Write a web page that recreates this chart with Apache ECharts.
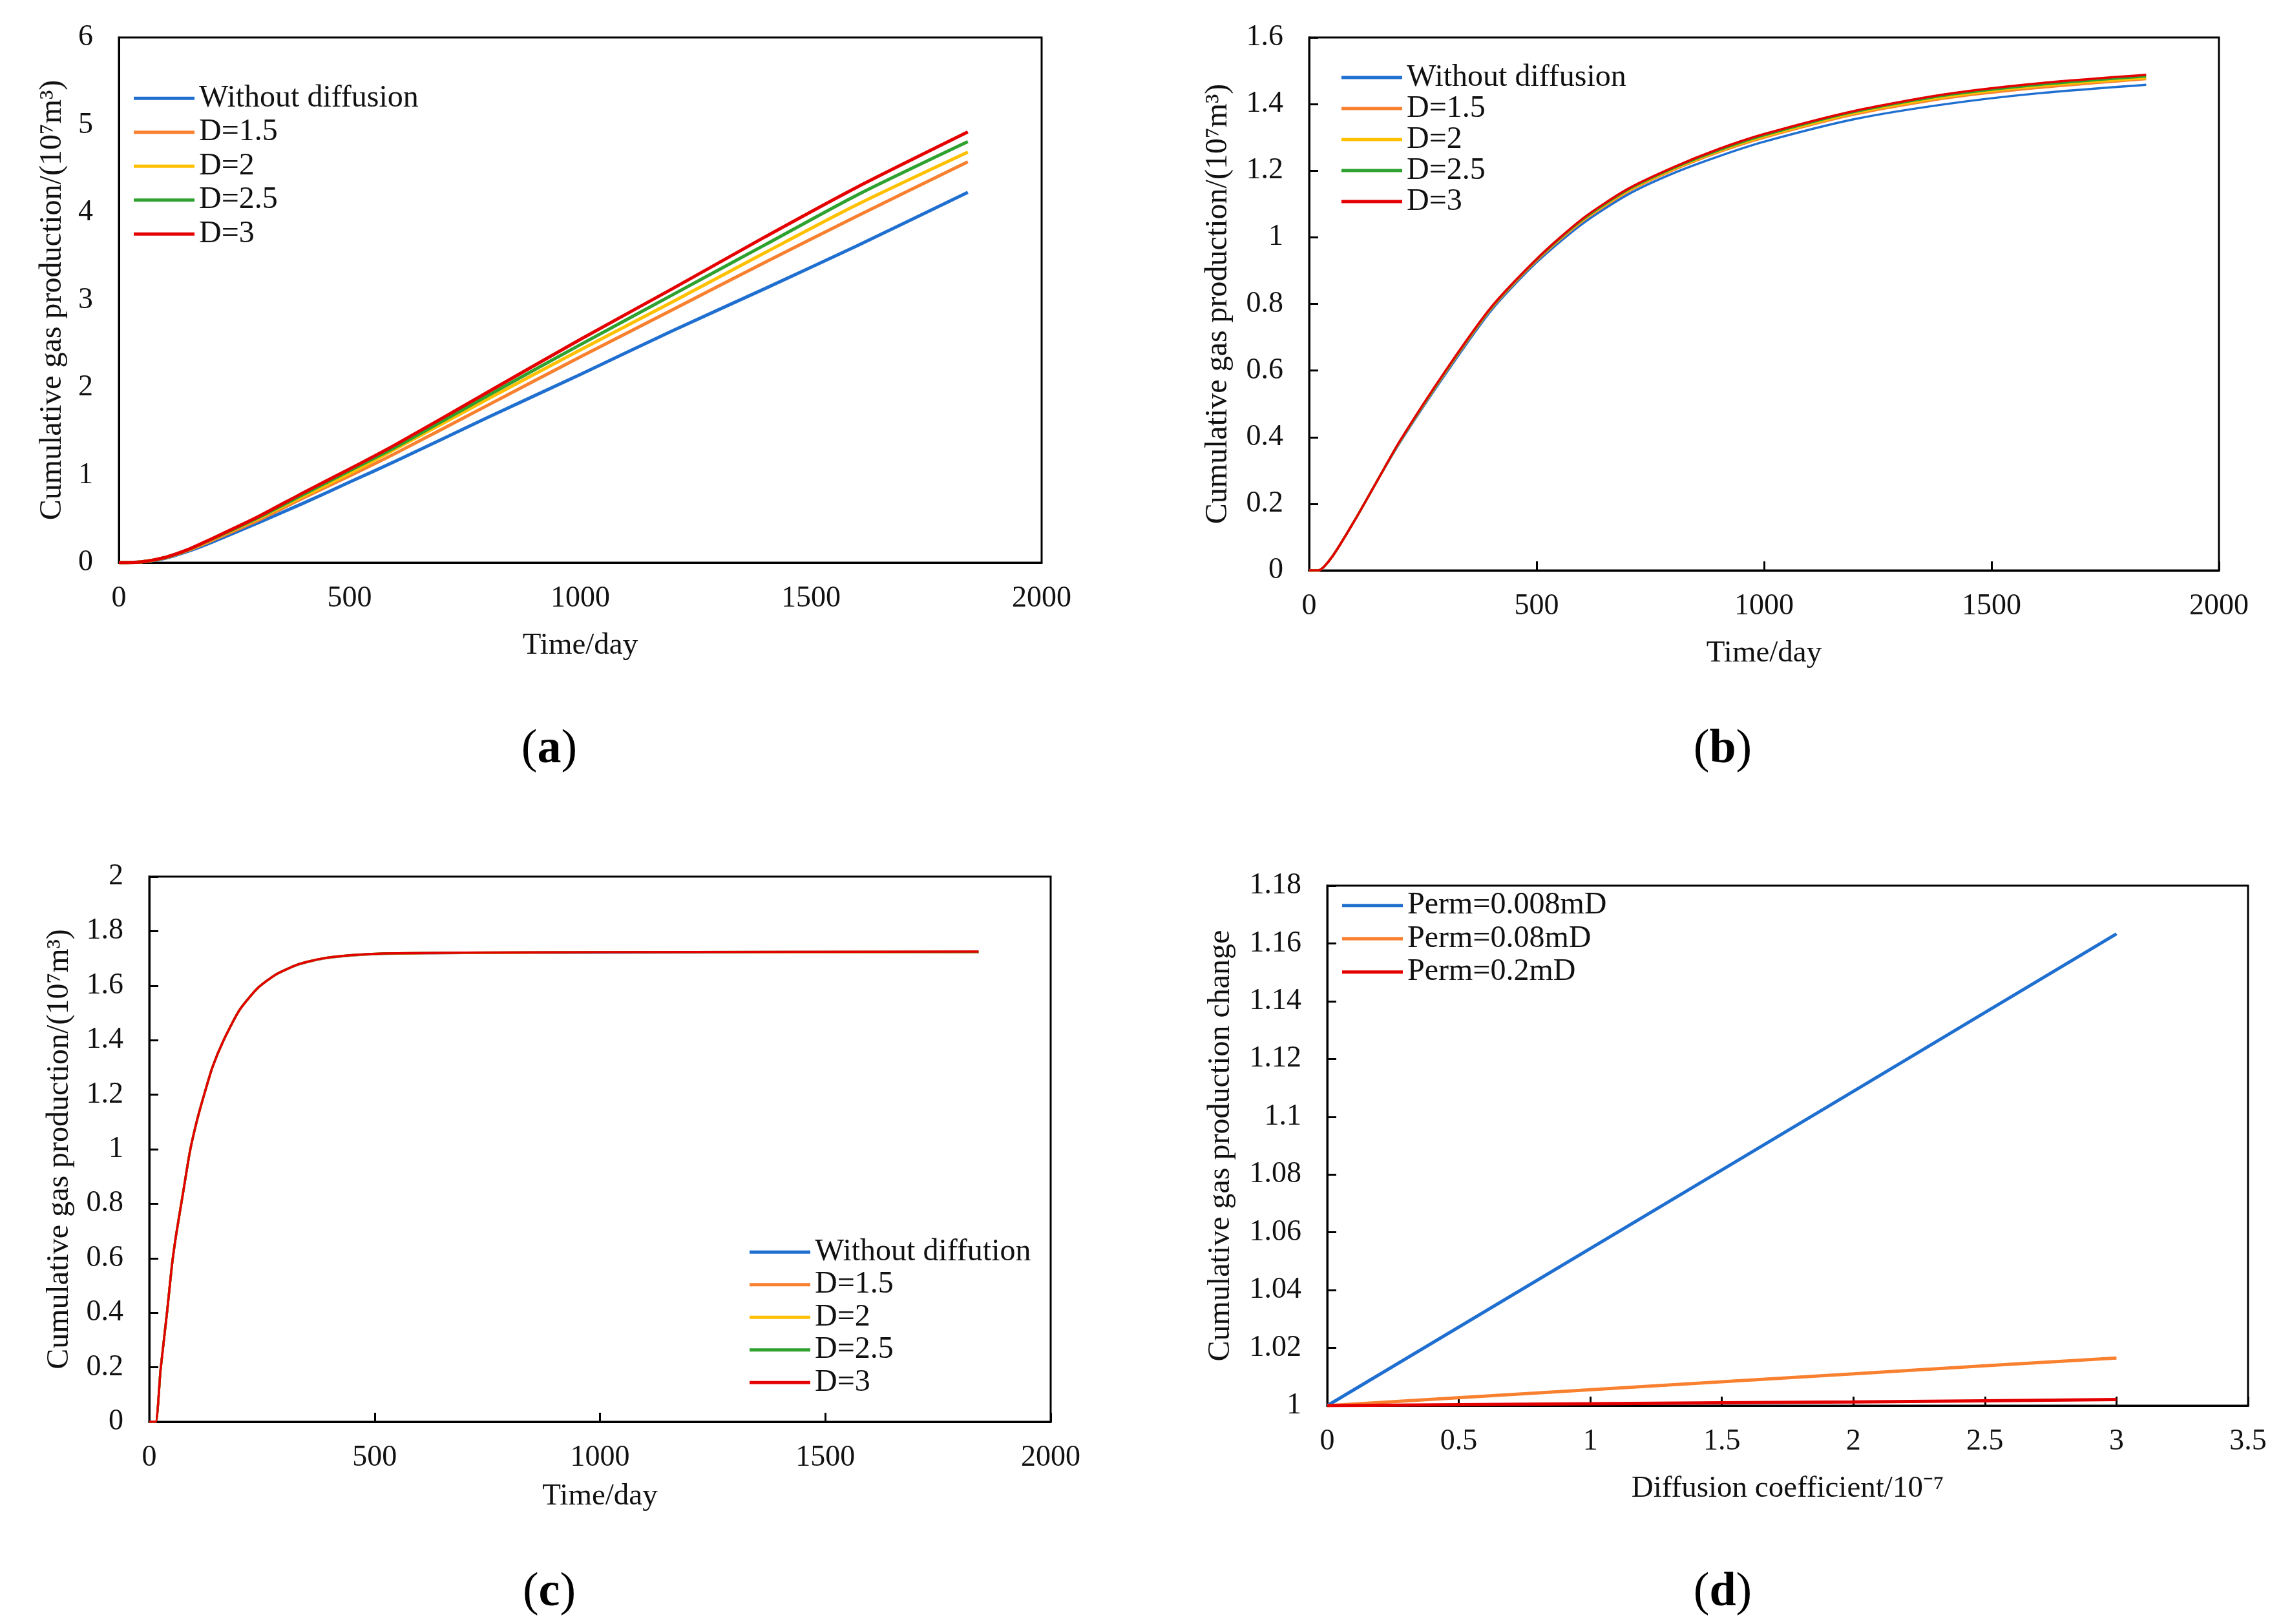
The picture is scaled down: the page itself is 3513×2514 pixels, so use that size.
<!DOCTYPE html>
<html>
<head>
    <meta charset="UTF-8">
    <title>Cumulative gas production</title>
    <script type="text/javascript" src="https://cdn.jsdelivr.net/npm/echarts@6.0.0/dist/echarts.min.js"></script>
    <style>
        html, body { margin: 0; padding: 0; background: #fff; }
        #main { width: 3513px; height: 2514px; }
    </style>
</head>
<body>
<div id="main"></div>

<script type="text/javascript">
    // ---- data ----
    // (a) time axis, days
    var timeA = [0, 50, 100, 150, 200, 300, 400, 500, 600, 800, 1000, 1200, 1400, 1600, 1840];
    var aNoDiff = [0, 0.01, 0.05, 0.13, 0.23, 0.45, 0.68, 0.92, 1.16, 1.66, 2.15, 2.65, 3.13, 3.62, 4.23];
    var aD15    = [0, 0.01, 0.055, 0.14, 0.25, 0.48, 0.74, 0.99, 1.25, 1.80, 2.35, 2.89, 3.43, 3.96, 4.58];
    var aD2     = [0, 0.01, 0.057, 0.145, 0.26, 0.50, 0.76, 1.02, 1.30, 1.87, 2.43, 2.98, 3.54, 4.09, 4.69];
    var aD25    = [0, 0.01, 0.058, 0.148, 0.265, 0.51, 0.78, 1.05, 1.32, 1.91, 2.49, 3.06, 3.63, 4.20, 4.81];
    var aD3     = [0, 0.01, 0.06, 0.15, 0.27, 0.52, 0.80, 1.07, 1.35, 1.95, 2.55, 3.13, 3.72, 4.29, 4.92];

    // (b)
    var timeB = [0, 20, 50, 100, 150, 200, 300, 400, 500, 600, 700, 800, 900, 1000, 1200, 1400, 1600, 1840];
    var bNoDiff = [0, 0, 0.04, 0.15, 0.27, 0.385, 0.590, 0.780, 0.925, 1.040, 1.128, 1.192, 1.243, 1.287, 1.355, 1.400, 1.432, 1.458];
    var bD15    = [0, 0, 0.04, 0.15, 0.27, 0.388, 0.595, 0.785, 0.930, 1.047, 1.136, 1.201, 1.255, 1.299, 1.369, 1.417, 1.448, 1.475];
    var bD2     = [0, 0, 0.04, 0.15, 0.27, 0.388, 0.597, 0.787, 0.932, 1.050, 1.139, 1.204, 1.258, 1.302, 1.373, 1.421, 1.453, 1.478];
    var bD25    = [0, 0, 0.04, 0.15, 0.27, 0.389, 0.598, 0.788, 0.933, 1.052, 1.142, 1.207, 1.261, 1.306, 1.377, 1.426, 1.457, 1.483];
    var bD3     = [0, 0, 0.04, 0.15, 0.27, 0.390, 0.600, 0.790, 0.935, 1.055, 1.145, 1.210, 1.265, 1.310, 1.380, 1.430, 1.462, 1.488];

    // (c)
    var timeC = [0, 14, 25, 40, 50, 60, 75, 90, 105, 120, 140, 165, 200, 240, 280, 330, 385, 450, 520, 700, 1000, 1400, 1840];
    var cNoDiff = [0, 0, 0.19, 0.41, 0.57, 0.69, 0.84, 0.99, 1.10, 1.19, 1.30, 1.40, 1.51, 1.59, 1.64, 1.677, 1.699, 1.711, 1.717, 1.720, 1.721, 1.722, 1.722];
    var cD15    = [0, 0, 0.19, 0.41, 0.57, 0.69, 0.84, 0.99, 1.10, 1.19, 1.30, 1.40, 1.51, 1.59, 1.64, 1.677, 1.699, 1.711, 1.717, 1.720, 1.722, 1.723, 1.723];
    var cD2     = [0, 0, 0.19, 0.41, 0.57, 0.69, 0.84, 0.99, 1.10, 1.19, 1.30, 1.40, 1.51, 1.59, 1.64, 1.678, 1.700, 1.712, 1.718, 1.721, 1.722, 1.723, 1.724];
    var cD25    = [0, 0, 0.19, 0.41, 0.57, 0.69, 0.84, 0.99, 1.10, 1.19, 1.30, 1.40, 1.51, 1.59, 1.64, 1.678, 1.700, 1.712, 1.718, 1.721, 1.723, 1.724, 1.724];
    var cD3     = [0, 0, 0.19, 0.41, 0.57, 0.69, 0.84, 0.99, 1.10, 1.19, 1.30, 1.40, 1.51, 1.59, 1.64, 1.678, 1.700, 1.712, 1.718, 1.721, 1.723, 1.724, 1.725];

    // (d) diffusion coefficient / 10^-7
    var diffD = [0, 1.5, 2, 2.5, 3];
    var dPerm0008 = [1, 1.0816, 1.1088, 1.1361, 1.1633];
    var dPerm008  = [1, 1.0083, 1.0110, 1.0138, 1.0165];
    var dPerm02   = [1, 1.0010, 1.0013, 1.0017, 1.0021];

    var xTicksTime = [0, 2000, 500];   // min, max, interval
    var xTicksD = [0, 3.5, 0.5];

    var namesA = ['Without diffusion', 'D=1.5', 'D=2', 'D=2.5', 'D=3'];
    var namesC = ['Without diffution', 'D=1.5', 'D=2', 'D=2.5', 'D=3'];
    var namesD = ['Perm=0.008mD', 'Perm=0.08mD', 'Perm=0.2mD'];

    var colors = ['#1F6FD0', '#F8802F', '#FFC000', '#2EA12E', '#E50000'];
    var colorsD = ['#1F6FD0', '#F8802F', '#E50000'];

    var FONT = 'Liberation Serif';
    var yTitle = 'Cumulative gas production/(10\u2077m\u00B3)';

    function pairs(xs, ys) {
        var out = [];
        for (var i = 0; i < xs.length; i++) out.push([xs[i], ys[i]]);
        return out;
    }

    // plain numbers, no thousands separator
    function plain(v) {
        return String(+v.toFixed(4));
    }

    function xAxisCfg(idx, ticks, name, nameGap, showTick) {
        return {
            type: 'value', gridIndex: idx,
            min: ticks[0], max: ticks[1], interval: ticks[2],
            name: name, nameLocation: 'middle', nameGap: nameGap,
            nameTextStyle: { fontFamily: FONT, fontSize: 47, color: '#111' },
            axisLine: { show: true, lineStyle: { color: '#000', width: 3 } },
            axisTick: { show: showTick, inside: true, length: 14, lineStyle: { color: '#000', width: 3 } },
            axisLabel: { fontFamily: FONT, fontSize: 46, color: '#111', margin: 33, formatter: plain },
            splitLine: { show: false }
        };
    }

    function yAxisCfg(idx, min, max, interval, name, nameGap, showTick) {
        return {
            type: 'value', gridIndex: idx,
            min: min, max: max, interval: interval,
            name: name, nameLocation: 'middle', nameGap: nameGap,
            nameTextStyle: { fontFamily: FONT, fontSize: 48, color: '#111' },
            axisLine: { show: true, lineStyle: { color: '#000', width: 3 } },
            axisTick: { show: showTick, inside: true, length: 14, lineStyle: { color: '#000', width: 3 } },
            axisLabel: { fontFamily: FONT, fontSize: 46, color: '#111', margin: 40, formatter: plain },
            splitLine: { show: false }
        };
    }

    function legendCfg(names, left, top, rowH) {
        return {
            data: names, orient: 'vertical', left: left, top: top,
            icon: 'rect', itemWidth: 94, itemHeight: 5, itemGap: 0,
            selectedMode: false, padding: 0,
            textStyle: { fontFamily: FONT, fontSize: 48, color: '#111', lineHeight: rowH, padding: [0, 0, 0, 2] }
        };
    }

    function lineSeries(name, xi, data, color, width, smooth) {
        return {
            type: 'line', name: name, xAxisIndex: xi, yAxisIndex: xi,
            data: data, showSymbol: false, symbol: 'none',
            smooth: smooth,
            color: color, itemStyle: { color: color },
            lineStyle: { color: color, width: width },
            animation: false
        };
    }

    var series = [];
    var setsA = [aNoDiff, aD15, aD2, aD25, aD3];
    var setsB = [bNoDiff, bD15, bD2, bD25, bD3];
    var setsC = [cNoDiff, cD15, cD2, cD25, cD3];
    for (var i = 0; i < 5; i++) {
        series.push(lineSeries(namesA[i], 0, pairs(timeA, setsA[i]), colors[i], 5, 0.25));
    }
    for (var i = 0; i < 5; i++) {
        series.push(lineSeries(namesA[i], 1, pairs(timeB, setsB[i]), colors[i], 3.5, 0.25));
    }
    for (var i = 0; i < 5; i++) {
        series.push(lineSeries(namesC[i], 2, pairs(timeC, setsC[i]), colors[i], 3.5, 0.2));
    }
    var setsD = [dPerm0008, dPerm008, dPerm02];
    for (var i = 0; i < 3; i++) {
        series.push(lineSeries(namesD[i], 3, pairs(diffD, setsD[i]), colorsD[i], 5, false));
    }

    function panelLabel(letter, x, y) {
        return {
            type: 'text', x: x, y: y,
            style: {
                text: '{n|(}{b|' + letter + '}{n|)}',
                align: 'center', verticalAlign: 'middle',
                rich: {
                    n: { fontFamily: FONT, fontSize: 74, fill: '#000' },
                    b: { fontFamily: FONT, fontSize: 74, fontWeight: 'bold', fill: '#000' }
                }
            }
        };
    }

    var gridStyle = { show: true, borderColor: '#000', borderWidth: 3, backgroundColor: '#fff' };

    var option = {
        backgroundColor: '#fff',
        animation: false,
        grid: [
            Object.assign({ left: 184, top: 58, width: 1428, height: 813 }, gridStyle),
            Object.assign({ left: 2026, top: 58, width: 1408, height: 825 }, gridStyle),
            Object.assign({ left: 231, top: 1357, width: 1395, height: 844 }, gridStyle),
            Object.assign({ left: 2054, top: 1371, width: 1425, height: 805 }, gridStyle)
        ],
        xAxis: [
            xAxisCfg(0, xTicksTime, 'Time/day', 105, false),
            xAxisCfg(1, xTicksTime, 'Time/day', 105, true),
            xAxisCfg(2, xTicksTime, 'Time/day', 92, true),
            xAxisCfg(3, xTicksD, 'Diffusion coefficient/10\u207B\u2077', 105, true)
        ],
        yAxis: [
            yAxisCfg(0, 0, 6, 1, yTitle, 79, false),
            yAxisCfg(1, 0, 1.6, 0.2, yTitle, 117, true),
            yAxisCfg(2, 0, 2, 0.2, yTitle, 115, true),
            yAxisCfg(3, 1, 1.18, 0.02, 'Cumulative gas production change', 141, true)
        ],
        legend: [
            legendCfg(namesA, 207, 126, 52.5),
            legendCfg(namesA, 2076, 96, 47),
            legendCfg(namesC, 1160, 1913, 50.5),
            legendCfg(namesD, 2077, 1376, 51.5)
        ],
        graphic: [
            panelLabel('a', 850, 1161),
            panelLabel('b', 2666, 1161),
            panelLabel('c', 850, 2466),
            panelLabel('d', 2666, 2466)
        ],
        series: series
    };

    var myChart = echarts.init(document.getElementById('main'));
    myChart.setOption(option);
</script>
</body>
</html>
